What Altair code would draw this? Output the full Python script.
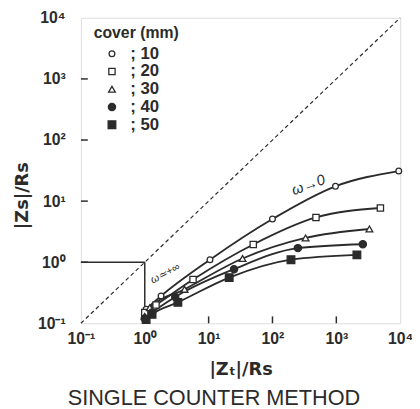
import altair as alt
import pandas as pd

covers = ["10", "20", "30", "40", "50"]
zt = {
    "10": [1.05, 1.8, 10.5, 100, 970, 9500],
    "20": [1.0, 1.5, 5.7, 50, 480, 4900],
    "30": [1.0, 1.2, 4.2, 34, 330, 3300],
    "40": [1.0, 1.3, 3.0, 25, 250, 2600],
    "50": [1.05, 1.3, 3.3, 21, 195, 2100],
}
zs = {
    "10": [0.17, 0.28, 1.1, 5.1, 17.5, 31],
    "20": [0.15, 0.2, 0.52, 1.95, 5.4, 7.7],
    "30": [0.13, 0.18, 0.36, 1.15, 2.5, 3.5],
    "40": [0.12, 0.15, 0.27, 0.77, 1.7, 1.97],
    "50": [0.115, 0.14, 0.22, 0.56, 1.1, 1.32],
}
decades = [0.1, 1, 10, 100, 1000, 10000]
inner_ticks = [1, 10, 100, 1000]
diag_x = [0.1, 10000]
box_h = {"x": [0.1], "x2": [1], "y": [1]}
box_v = {"x": [1], "y": [0.1], "y2": [1]}
notes_text = ["ω→0", "ω≃+∞"]
notes_x = [365, 2.1]
notes_y = [18.5, 0.65]
notes_angle = [340, 332]
notes_size = [15, 11]

INK = "#2b2b2b"
FONT = "Liberation Sans"
TFONT = "DejaVu Sans"

rows = []
for c in covers:
    for a, b in zip(zt[c], zs[c]):
        rows.append({"cover": c, "zt": a, "zs": b})
df = pd.DataFrame(rows)

xs = alt.Scale(type="log", domain=[0.1, 10000])
ys = alt.Scale(type="log", domain=[0.1, 10000])
lab = "'10' + ['⁻¹','⁰','¹','²','³','⁴'][round(log(datum.value)/LN10)+1]"

xaxis = alt.Axis(values=decades, labelExpr=lab, title="|Zₜ|/Rs", grid=False, domain=False,
                 tickSize=0, labelPadding=8, labelFontSize=16, labelColor=INK, labelFont=FONT,
                 labelFontWeight="bold",
                 titleFontSize=18, titleFont=TFONT, titleColor=INK, titleFontWeight="bold",
                 titleY=52, titleBaseline="alphabetic", labelFlush=False)
yaxis = alt.Axis(values=decades, labelExpr=lab, title="|Zs|/Rs", grid=False, domain=False,
                 tickSize=0, labelPadding=16, labelFontSize=16, labelColor=INK, labelFont=FONT,
                 labelFontWeight="bold",
                 titleFontSize=18, titleFont=TFONT, titleColor=INK, titleFontWeight="bold",
                 titleX=-54, titleY=180, titleBaseline="alphabetic", titleAngle=270,
                 labelFlush=False)

diag = alt.Chart(pd.DataFrame({"x": diag_x, "y": diag_x})).mark_line(
    color=INK, strokeWidth=1.2, strokeDash=[4, 3]
).encode(x=alt.X("x:Q", scale=xs, axis=xaxis), y=alt.Y("y:Q", scale=ys, axis=yaxis))

hline = alt.Chart(pd.DataFrame(box_h)).mark_rule(color=INK, strokeWidth=1.5).encode(
    x=alt.X("x:Q", scale=xs), x2="x2:Q", y=alt.Y("y:Q", scale=ys))
vline = alt.Chart(pd.DataFrame(box_v)).mark_rule(color=INK, strokeWidth=1.5).encode(
    x=alt.X("x:Q", scale=xs), y=alt.Y("y:Q", scale=ys), y2="y2:Q")

xt = alt.Chart(pd.DataFrame({"t": inner_ticks})).mark_rule(color=INK, strokeWidth=1.5).encode(
    x=alt.X("t:Q", scale=xs), y=alt.value(310), y2=alt.value(303))
yt = alt.Chart(pd.DataFrame({"t": inner_ticks})).mark_rule(color=INK, strokeWidth=1.5).encode(
    y=alt.Y("t:Q", scale=ys), x=alt.value(0), x2=alt.value(7))

lines = alt.Chart(df).mark_line(color=INK, strokeWidth=1.9, interpolate="monotone").encode(
    x=alt.X("zt:Q", scale=xs), y=alt.Y("zs:Q", scale=ys), detail="cover:N")

legend = alt.Legend(title="cover (mm)", orient="none", legendX=13, legendY=7,
                    titleFontSize=16, titleFont=FONT, titleColor=INK, titleFontWeight="bold",
                    labelFontSize=17, labelFont=FONT, labelColor=INK, labelFontWeight="bold",
                    labelExpr="'; ' + datum.label",
                    symbolStrokeWidth=1.3, rowPadding=0, labelOffset=10,
                    symbolOffset=10, titlePadding=5, padding=0, offset=0)

pts = alt.Chart(df).mark_point(filled=True, strokeWidth=1.3, opacity=1).encode(
    x=alt.X("zt:Q", scale=xs), y=alt.Y("zs:Q", scale=ys),
    stroke=alt.Stroke("cover:N", scale=alt.Scale(domain=covers, range=[INK] * 5), legend=legend),
    shape=alt.Shape("cover:N", scale=alt.Scale(domain=covers,
                    range=["circle", "square", "triangle-up", "circle", "square"]), legend=legend),
    fill=alt.Fill("cover:N", scale=alt.Scale(domain=covers,
                  range=["white", "white", "white", INK, INK]), legend=legend),
    size=alt.Size("cover:N", scale=alt.Scale(domain=covers, range=[34, 60, 55, 24, 44]), legend=legend),
)

notes = alt.Chart(pd.DataFrame({"t": notes_text, "x": notes_x, "y": notes_y,
                                "a": notes_angle, "s": notes_size})).mark_text(
    color=INK, font=FONT, fontStyle="italic").encode(
    x=alt.X("x:Q", scale=xs), y=alt.Y("y:Q", scale=ys), text="t:N",
    angle=alt.Angle("a:Q", scale=None), size=alt.Size("s:Q", scale=None))

chart = alt.layer(diag, hline, vline, xt, yt, lines, pts, notes).properties(
    width=324, height=310,
    padding={"left": 74, "top": 7, "right": 12, "bottom": 84},
    autosize=alt.AutoSizeParams(type="none"),
    title=alt.TitleParams("SINGLE COUNTER METHOD", orient="bottom", fontSize=22, font=FONT,
                          fontWeight="normal", color=INK, dx=-27, offset=10, frame="group"),
).configure_view(stroke=INK, strokeWidth=2.2).configure(background="white")

chart.save("out.html", embed_options={"renderer": "svg", "actions": False})
